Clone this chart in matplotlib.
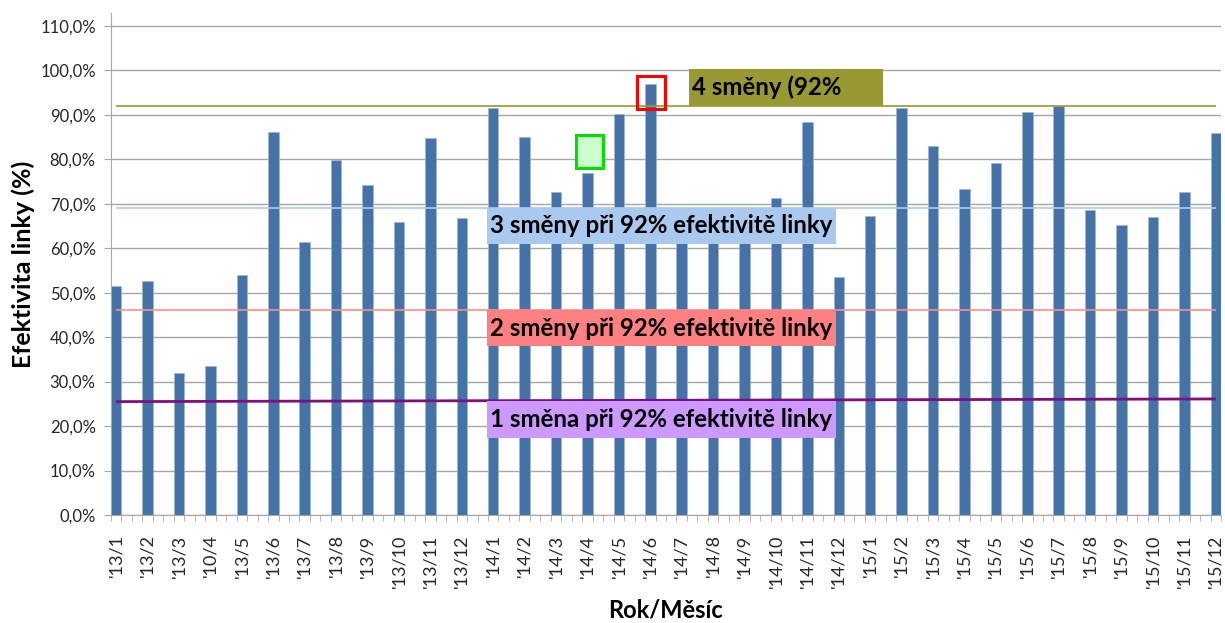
import numpy as np
import matplotlib.pyplot as plt
from matplotlib.patches import Rectangle
from matplotlib.ticker import FuncFormatter, FixedLocator

plt.rcParams['font.family'] = ['Lato', 'DejaVu Sans']

# monthly line efficiency (%)
months = ["'13/1", "'13/2", "'13/3", "'10/4", "'13/5", "'13/6", "'13/7", "'13/8",
          "'13/9", "'13/10", "'13/11", "'13/12",
          "'14/1", "'14/2", "'14/3", "'14/4", "'14/5", "'14/6", "'14/7", "'14/8",
          "'14/9", "'14/10", "'14/11", "'14/12",
          "'15/1", "'15/2", "'15/3", "'15/4", "'15/5", "'15/6", "'15/7", "'15/8",
          "'15/9", "'15/10", "'15/11", "'15/12"]
efektivita = [51.5, 52.6, 31.9, 33.4, 53.9, 86.2, 61.3, 79.9, 74.2, 65.8, 84.7, 66.7,
              91.6, 85.0, 72.6, 76.9, 90.2, 96.9, 64.5, 62.5, 66.0, 71.4, 88.4, 53.5,
              67.2, 91.6, 82.9, 73.4, 79.1, 90.7, 91.9, 68.6, 65.2, 67.0, 72.7, 85.9]

# capacity levels for 1-4 shifts at 92 % efficiency (start / end of the line)
smeny_text = ['4 směny (92%', '3 směny při 92% efektivitě linky',
              '2 směny při 92% efektivitě linky', '1 směna při 92% efektivitě linky']
smeny_start = [92.0, 69.0, 46.0, 25.5]
smeny_end = [92.0, 69.0, 46.0, 26.1]
smeny_line = ['#9a9a2c', '#a9cbee', '#ff8f8f', '#7d0f82']
smeny_box = ['#999933', '#a9c9ef', '#ff8080', '#cc99ff']
smeny_lw = [1.2, 1.2, 1.2, 2.0]

# highlighted months: (index, centre of the marker)
red_mark = (17, 95.1)
green_mark = (15, 81.8)

x = np.arange(len(months))

fig = plt.figure(figsize=(12.25, 6.23), dpi=100)
ax = fig.add_axes([111 / 1225, 1 - 515 / 623, 1110 / 1225, 502 / 623])

ax.bar(x, efektivita, width=1 / 3, color='#4572a7', edgecolor='#9fb6d6',
       linewidth=0.5, zorder=2)

for i in range(4):
    ax.plot([x[0], x[-1]], [smeny_start[i], smeny_end[i]], color=smeny_line[i],
            lw=smeny_lw[i], zorder=3, solid_capstyle='butt')

# label boxes: the top one sits on its line, the others hang below
for i in range(4):
    if i == 0:
        x0, x1 = 18.24, 24.41
        y0, y1 = smeny_start[i], smeny_start[i] + 8.3
    else:
        x0, x1 = 11.81, 22.92
        y0, y1 = smeny_start[i] - 8.1, smeny_start[i] + 0.1
    ax.add_patch(Rectangle((x0, y0), x1 - x0, y1 - y0, facecolor=smeny_box[i],
                           edgecolor='none', zorder=4))
    ax.text(x0 + 0.08, (y0 + y1) / 2, smeny_text[i], fontsize=17.3, fontweight='bold',
            color='black', ha='left', va='center', zorder=5)

ax.add_patch(Rectangle((red_mark[0] + 0.03 - 0.44, red_mark[1] - 3.7), 0.88, 7.4,
                       facecolor='none', edgecolor='#ff0000', lw=2.2, zorder=5))
ax.add_patch(Rectangle((green_mark[0] + 0.07 - 0.43, green_mark[1] - 3.7), 0.86, 7.4,
                       facecolor='#ccffcc', edgecolor='#00dd00', lw=2.2, zorder=5))

ax.set_xlim(-1 / 6, x[-1] + 1 / 6)
ax.set_ylim(0, 112.9)
ax.set_yticks(np.arange(0, 111, 10))
ax.yaxis.set_major_formatter(FuncFormatter(lambda v, p: f'{v:.1f}%'.replace('.', ',')))
ax.grid(axis='y', color='#a6a6a6', lw=1.0, zorder=0)
ax.set_axisbelow(True)

ax.set_xticks(x)
ax.set_xticklabels(months, rotation=90, fontsize=13, color='#262626')
ax.xaxis.set_minor_locator(FixedLocator(-1 / 6 + np.arange(107) / 3))
ax.tick_params(axis='x', which='major', length=0, pad=14)
ax.tick_params(axis='x', which='minor', length=4.5, color='#a6a6a6')
ax.tick_params(axis='y', length=5, color='#a6a6a6', labelsize=12,
               labelcolor='#262626', pad=6)

for s in ['top', 'right']:
    ax.spines[s].set_visible(False)
for s in ['left', 'bottom']:
    ax.spines[s].set_color('#a6a6a6')

ax.set_ylabel('Efektivita linky (%)', fontsize=18, fontweight='bold', labelpad=4)
ax.set_xlabel('Rok/Měsíc', fontsize=17, fontweight='bold', labelpad=8)

fig.savefig('out.png', dpi=100)
